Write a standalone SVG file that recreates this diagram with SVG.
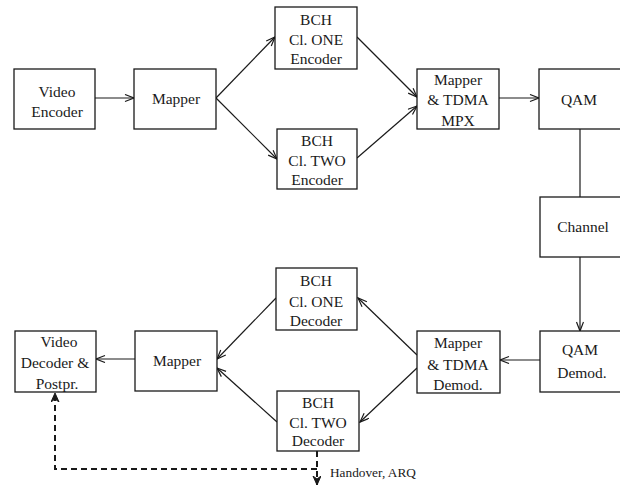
<svg xmlns="http://www.w3.org/2000/svg" width="620" height="487" viewBox="0 0 620 487">
<style>
.box{fill:#fff;stroke:#1a1a1a;stroke-width:1.3}
.t{font-family:"Liberation Serif","Times New Roman",serif;font-size:15.5px;fill:#1a1a1a;text-anchor:middle}
.c{fill:none;stroke:#1a1a1a;stroke-width:1.2}
.d{fill:none;stroke:#1a1a1a;stroke-width:2;stroke-dasharray:6,4}
</style>
<defs>
<marker id="a" markerUnits="userSpaceOnUse" markerWidth="12" markerHeight="10" refX="10" refY="4" orient="auto">
<path d="M1,0.5 L10,4 L1,7.5" fill="none" stroke="#1a1a1a" stroke-width="1.2"/>
</marker>
<marker id="da" markerUnits="userSpaceOnUse" markerWidth="12" markerHeight="10" refX="9" refY="4" orient="auto">
<path d="M0,0 L9,4 L0,8 L3,4 Z" fill="#1a1a1a" stroke="#1a1a1a" stroke-width="1"/>
</marker>
</defs>
<rect width="620" height="487" fill="#fff"/>
<g id="connectors">
<line class="c" x1="95" y1="98" x2="134" y2="98" marker-end="url(#a)"/>
<line class="c" x1="216" y1="98" x2="275" y2="37" marker-end="url(#a)"/>
<line class="c" x1="216" y1="98" x2="277" y2="159" marker-end="url(#a)"/>
<line class="c" x1="357" y1="37" x2="417" y2="97" marker-end="url(#a)"/>
<line class="c" x1="357" y1="158" x2="417" y2="106" marker-end="url(#a)"/>
<line class="c" x1="499" y1="98" x2="539" y2="98" marker-end="url(#a)"/>
<line class="c" x1="580" y1="129" x2="580" y2="197"/>
<line class="c" x1="580" y1="257" x2="580" y2="331" marker-end="url(#a)"/>
<line class="c" x1="540" y1="360" x2="500" y2="360" marker-end="url(#a)"/>
<line class="c" x1="417" y1="355" x2="358" y2="298" marker-end="url(#a)"/>
<line class="c" x1="417" y1="368" x2="360" y2="422" marker-end="url(#a)"/>
<line class="c" x1="276" y1="298" x2="217" y2="359" marker-end="url(#a)"/>
<line class="c" x1="277" y1="422" x2="217" y2="368" marker-end="url(#a)"/>
<line class="c" x1="135" y1="359" x2="96" y2="359" marker-end="url(#a)"/>
<line class="d" x1="317" y1="451" x2="317" y2="485" marker-end="url(#da)"/>
<polyline class="d" points="317,469 55,469 55,393" marker-end="url(#da)"/>
<text class="t" x="330" y="477" style="text-anchor:start;font-size:13.3px">Handover, ARQ</text>
</g>
<g id="video-encoder">
<rect class="box" x="14" y="69" width="81" height="60"/>
<text class="t" x="57" y="97">Video</text>
<text class="t" x="57" y="117">Encoder</text>
</g>
<g id="mapper-tx">
<rect class="box" x="134" y="69" width="82" height="60"/>
<text class="t" x="176" y="104">Mapper</text>
</g>
<g id="bch-one-enc">
<rect class="box" x="275" y="7" width="82" height="62"/>
<text class="t" x="316" y="25">BCH</text>
<text class="t" x="316" y="45">Cl. ONE</text>
<text class="t" x="316" y="64">Encoder</text>
</g>
<g id="bch-two-enc">
<rect class="box" x="277" y="129" width="80" height="60"/>
<text class="t" x="317" y="146">BCH</text>
<text class="t" x="317" y="166">Cl. TWO</text>
<text class="t" x="317" y="185">Encoder</text>
</g>
<g id="mapper-tdma-mpx">
<rect class="box" x="417" y="69" width="82" height="60"/>
<text class="t" x="458" y="85">Mapper</text>
<text class="t" x="458" y="105">&amp; TDMA</text>
<text class="t" x="458" y="126">MPX</text>
</g>
<g id="qam">
<rect class="box" x="539" y="69" width="90" height="60"/>
<text class="t" x="579" y="105">QAM</text>
</g>
<g id="channel">
<rect class="box" x="540" y="197" width="90" height="60"/>
<text class="t" x="583" y="232">Channel</text>
</g>
<g id="qam-demod">
<rect class="box" x="540" y="331" width="90" height="61"/>
<text class="t" x="580" y="355">QAM</text>
<text class="t" x="582" y="378">Demod.</text>
</g>
<g id="mapper-tdma-demod">
<rect class="box" x="417" y="331" width="83" height="62"/>
<text class="t" x="458" y="348">Mapper</text>
<text class="t" x="458" y="370">&amp; TDMA</text>
<text class="t" x="458" y="390">Demod.</text>
</g>
<g id="bch-one-dec">
<rect class="box" x="276" y="268" width="81" height="62"/>
<text class="t" x="316" y="286">BCH</text>
<text class="t" x="316" y="307">Cl. ONE</text>
<text class="t" x="316" y="326">Decoder</text>
</g>
<g id="bch-two-dec">
<rect class="box" x="277" y="391" width="82" height="60"/>
<text class="t" x="318" y="408">BCH</text>
<text class="t" x="318" y="428">Cl. TWO</text>
<text class="t" x="318" y="446">Decoder</text>
</g>
<g id="mapper-rx">
<rect class="box" x="135" y="331" width="82" height="60"/>
<text class="t" x="177" y="366">Mapper</text>
</g>
<g id="video-decoder">
<rect class="box" x="15" y="331" width="81" height="61"/>
<text class="t" x="59" y="347">Video</text>
<text class="t" x="55" y="368">Decoder &amp;</text>
<text class="t" x="57" y="389">Postpr.</text>
</g>
</svg>
